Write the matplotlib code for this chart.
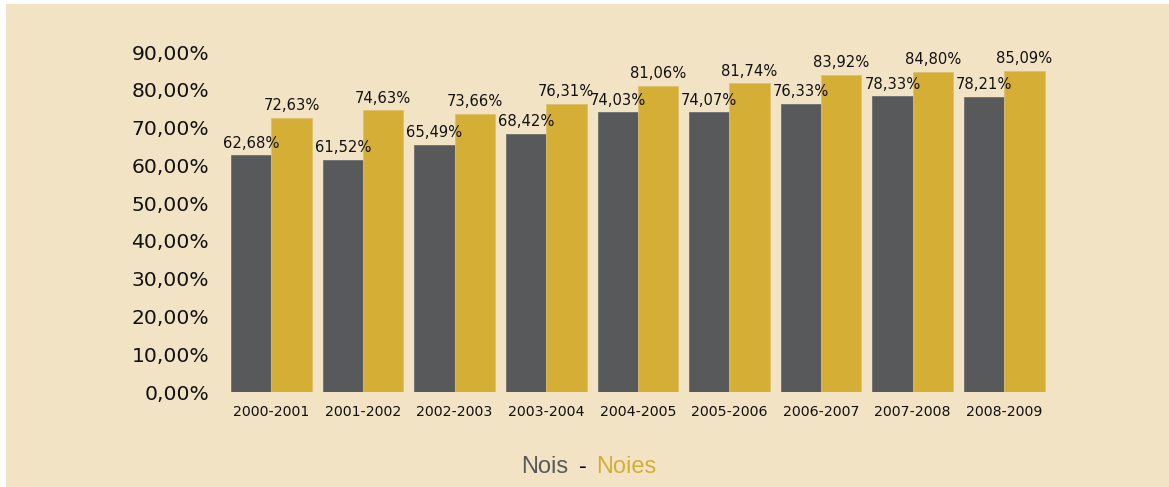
import matplotlib.pyplot as plt
import numpy as np
from matplotlib.patches import Rectangle

years = ["2000-2001", "2001-2002", "2002-2003", "2003-2004", "2004-2005",
         "2005-2006", "2006-2007", "2007-2008", "2008-2009"]
nois = [62.68, 61.52, 65.49, 68.42, 74.03, 74.07, 76.33, 78.33, 78.21]
noies = [72.63, 74.63, 73.66, 76.31, 81.06, 81.74, 83.92, 84.80, 85.09]

BG = "#f2e3c4"
GREY = "#58595b"
GOLD = "#d4ae35"

W, H = 1169, 487
fig = plt.figure(figsize=(W / 100, H / 100), dpi=100, facecolor="white")
fig.patches.append(Rectangle((6 / W, 0), 1, 1 - 4 / H, transform=fig.transFigure,
                             facecolor=BG, edgecolor="none", zorder=-10))

ax = fig.add_axes([225.7 / W, 1 - 392 / H, (1050 - 225.7) / W, 340 / H])
ax.set_facecolor("none")

x = np.arange(len(years))
bw = 0.44
b1 = ax.bar(x - bw / 2, nois, bw, color=GREY, edgecolor="#6e6f70", linewidth=0.6)
b2 = ax.bar(x + bw / 2, noies, bw, color=GOLD, edgecolor="#dcc070", linewidth=0.6)


def fmt(v):
    return f"{v:.2f}".replace(".", ",") + "%"


for bars, vals in ((b1, nois), (b2, noies)):
    for r, v in zip(bars, vals):
        ax.text(r.get_x() + r.get_width() / 2, v + 1.2, fmt(v), ha="center", va="bottom",
                fontsize=10.6, color="#111111")

ax.set_xlim(-0.5, len(years) - 0.5)
ax.set_ylim(0, 90)
ax.set_yticks(np.arange(0, 91, 10))
ax.set_yticklabels([fmt(t) for t in np.arange(0, 91, 10)], fontsize=14.6, color="#111111")
ax.set_xticks(x)
ax.set_xticklabels(years, fontsize=10.2, color="#111111")
ax.tick_params(axis="y", length=0, pad=12)
ax.tick_params(axis="x", length=0, pad=9)
for s in ax.spines.values():
    s.set_visible(False)

fs = 17
fig.text(568 / W, 1 - 467 / H, "Nois", color=GREY, fontsize=fs, family="Liberation Sans",
         ha="right", va="center")
fig.text(583 / W, 1 - 467 / H, "-", color="black", fontsize=fs, family="Liberation Sans",
         ha="center", va="center")
fig.text(596 / W, 1 - 467 / H, "Noies", color=GOLD, fontsize=fs, family="Liberation Sans",
         ha="left", va="center")

fig.savefig("out.png", dpi=100, facecolor=fig.get_facecolor())
